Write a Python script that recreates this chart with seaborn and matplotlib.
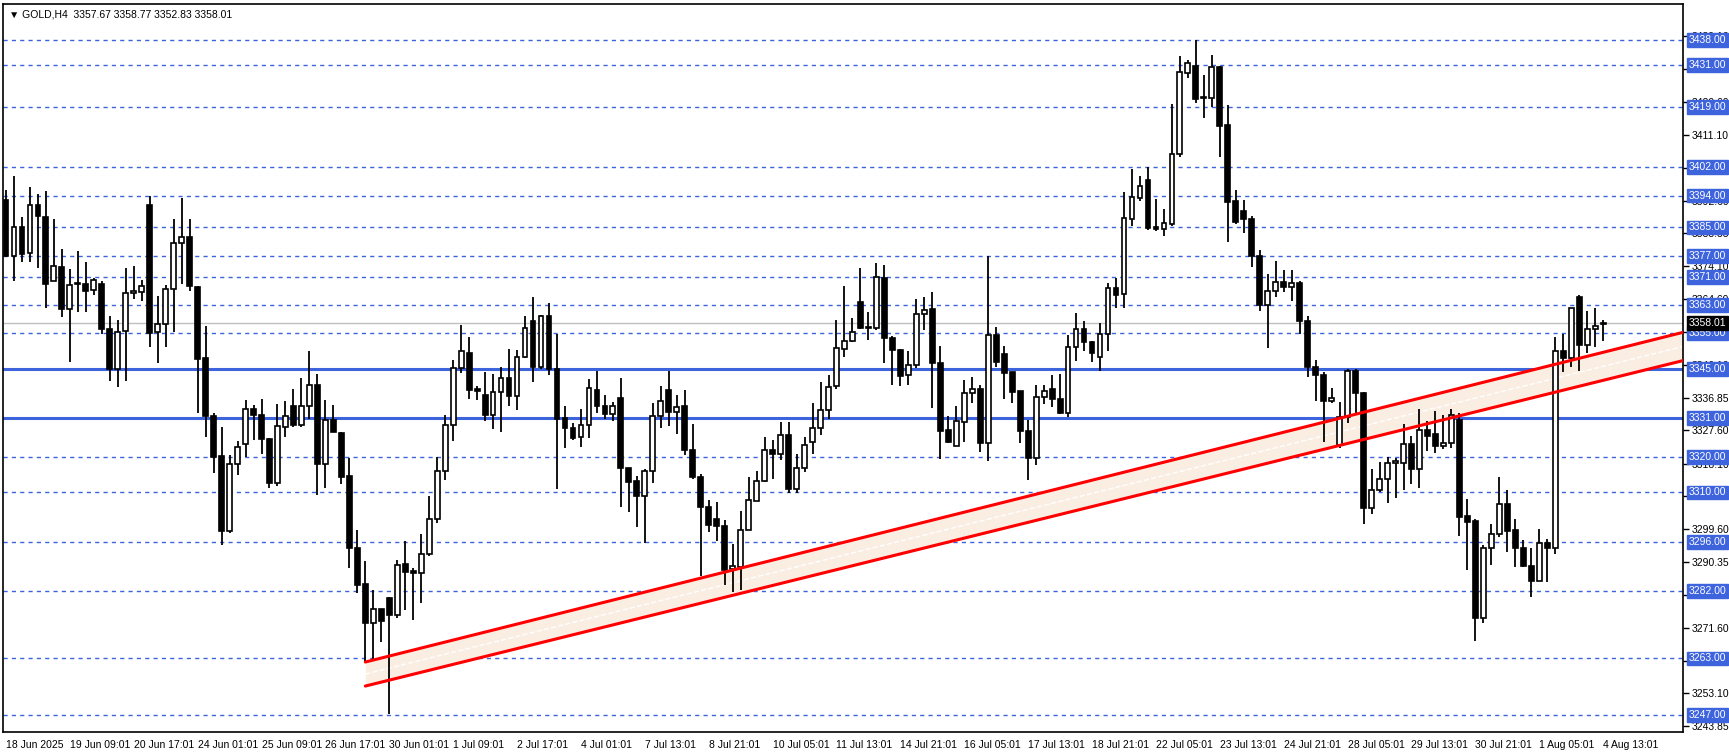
import matplotlib
matplotlib.use("Agg")
import matplotlib.pyplot as plt
import seaborn as sns
import numpy as np
import pandas as pd

opens = [3392.7,3377.0,3385.2,3377.7,3391.3,3388.0,3369.9,3373.9,3361.9,3368.9,3369.0,3367.3,3369.0,3356.2,3345.0,3355.6,3366.3,3366.6,3391.4,3355.3,
3357.7,3367.5,3380.5,3382.2,3368.2,3347.9,3331.7,3320.2,3299.1,3318.1,3323.7,3333.7,3332.0,3325.2,3312.7,3328.6,3334.5,3329.0,3334.5,3340.5,
3318.0,3330.4,3326.8,3314.6,3294.4,3284.2,3273.1,3276.9,3280.0,3275.3,3289.7,3287.7,3287.1,3292.7,3302.4,3316.0,3329.0,3345.3,3349.5,3339.2,
3337.5,3332.0,3338.4,3342.5,3337.3,3348.3,3358.6,3345.5,3359.8,3345.0,3331.2,3328.3,3325.7,3329.2,3339.1,3334.5,3332.3,3336.8,3316.8,3313.2,
3309.1,3316.0,3331.6,3339.1,3332.8,3334.4,3322.1,3314.4,3305.9,3302.6,3300.4,3288.4,3288.9,3299.5,3307.7,3313.3,3321.9,3321.0,3326.2,3311.0,
3317.0,3324.3,3328.3,3333.2,3340.0,3350.6,3352.9,3363.9,3356.5,3356.4,3370.6,3353.7,3350.4,3343.2,3346.1,3360.5,3361.9,3346.6,3327.6,3323.2,
3330.0,3338.1,3339.3,3324.0,3354.6,3349.2,3344.0,3338.6,3327.5,3319.7,3337.1,3339.3,3336.5,3332.4,3351.2,3356.2,3352.6,3348.2,3354.8,3367.8,
3366.1,3387.3,3393.4,3398.4,3385.1,3384.5,3385.9,3405.9,3428.7,3430.8,3421.5,3421.7,3430.3,3414.0,3392.5,3389.7,3387.3,3376.9,3363.1,3367.1,
3369.5,3368.1,3369.2,3358.5,3345.5,3343.3,3336.0,3323.3,3331.3,3344.5,3338.2,3305.7,3310.6,3313.9,3318.4,3318.4,3323.8,3316.7,3327.8,3326.4,
3323.2,3324.1,3330.6,3303.3,3301.9,3274.6,3294.4,3298.2,3306.8,3299.3,3294.4,3289.1,3285.0,3295.8,3294.4,3350.1,3348.1,3365.3,3351.7,3356.3,
3357.67]
highs = [3395.5,3399.6,3387.8,3396.5,3394.4,3395.3,3387.3,3378.8,3373.2,3378.4,3375.3,3370.8,3369.7,3360.0,3358.8,3373.5,3374.0,3370.2,3393.9,3365.7,
3368.8,3387.3,3393.4,3387.3,3368.5,3357.2,3332.5,3328.4,3320.7,3324.6,3336.2,3334.6,3336.5,3325.5,3334.9,3335.8,3339.3,3342.5,3349.9,3343.6,
3336.1,3334.6,3327.1,3319.6,3299.3,3290.5,3282.3,3277.0,3280.3,3290.8,3296.2,3288.5,3298.2,3308.9,3320.0,3331.8,3347.6,3357.5,3354.1,3340.0,
3344.2,3343.4,3345.5,3350.6,3350.2,3359.8,3365.2,3360.1,3363.5,3354.9,3334.4,3329.7,3333.7,3342.0,3344.5,3337.7,3335.6,3342.4,3316.9,3314.6,
3316.5,3335.4,3340.0,3344.5,3337.5,3339.1,3329.5,3315.3,3307.8,3307.3,3302.1,3295.5,3304.7,3314.3,3316.2,3325.7,3324.8,3329.9,3329.9,3321.0,
3325.7,3335.4,3341.2,3343.3,3358.9,3368.5,3359.3,3373.6,3361.1,3374.8,3374.4,3354.3,3350.6,3350.1,3364.7,3365.4,3366.6,3351.5,3331.5,3334.4,
3341.7,3342.6,3340.5,3376.9,3356.9,3351.5,3344.2,3338.8,3330.5,3340.5,3340.5,3343.3,3343.5,3354.6,3360.7,3358.6,3352.8,3357.9,3369.2,3370.6,
3395.1,3401.4,3399.5,3402.1,3393.0,3390.3,3420.0,3433.4,3432.5,3438.1,3428.1,3433.7,3430.6,3419.6,3395.5,3392.8,3388.2,3378.6,3371.8,3375.6,
3373.0,3373.0,3369.8,3359.8,3347.6,3344.2,3339.6,3335.6,3345.0,3345.0,3338.3,3316.7,3318.6,3320.0,3319.6,3329.5,3325.9,3333.7,3330.1,3332.9,
3331.8,3333.7,3332.5,3308.1,3302.5,3295.0,3301.0,3314.4,3310.6,3302.6,3296.5,3294.4,3299.7,3296.9,3354.1,3354.8,3362.3,3366.0,3361.2,3362.1,
3358.77]
lows = [3376.5,3369.7,3375.1,3375.1,3373.4,3362.2,3369.7,3359.5,3346.8,3361.0,3361.0,3366.0,3354.8,3341.5,3339.8,3341.5,3364.6,3364.1,3351.1,3346.5,
3351.1,3355.3,3369.1,3366.9,3332.4,3325.8,3315.5,3295.0,3298.5,3314.8,3320.0,3324.8,3321.0,3311.3,3311.8,3325.7,3328.5,3328.5,3330.9,3309.2,
3311.3,3327.0,3312.5,3288.6,3281.4,3262.1,3262.6,3267.7,3247.2,3274.6,3276.7,3273.9,3278.6,3292.1,3301.4,3313.6,3324.6,3343.8,3336.5,3336.2,
3330.2,3328.0,3327.1,3334.5,3333.2,3348.0,3341.2,3345.0,3343.1,3310.9,3322.6,3324.7,3322.9,3325.4,3332.5,3330.9,3330.2,3305.9,3304.5,3300.1,
3295.8,3312.7,3328.1,3328.7,3326.4,3320.5,3313.9,3286.3,3298.8,3296.3,3283.7,3281.9,3282.3,3299.3,3307.5,3313.0,3313.7,3319.3,3309.7,3309.7,
3315.8,3320.8,3326.2,3330.9,3339.3,3348.4,3352.6,3356.2,3353.1,3355.9,3346.5,3340.4,3340.0,3340.5,3345.1,3356.0,3333.8,3319.5,3324.0,3323.0,
3324.3,3335.2,3321.5,3318.9,3345.4,3336.4,3335.2,3324.0,3313.4,3317.8,3334.9,3334.3,3332.3,3331.3,3347.3,3349.9,3346.8,3344.3,3349.9,3362.2,
3362.3,3385.4,3392.5,3384.3,3384.0,3382.6,3385.4,3405.0,3427.3,3420.3,3416.0,3419.0,3405.0,3381.0,3385.9,3383.3,3373.9,3361.4,3350.8,3365.2,
3366.7,3364.3,3354.9,3342.6,3335.9,3324.3,3335.3,3322.7,3329.6,3332.3,3301.2,3304.0,3310.2,3307.1,3308.3,3310.8,3312.5,3311.3,3321.7,3321.2,
3322.4,3322.7,3297.6,3288.0,3268.0,3273.1,3289.4,3297.4,3293.2,3288.9,3289.0,3280.4,3284.9,3284.7,3292.7,3344.0,3345.5,3344.3,3349.4,3351.1,
3352.83]
closes = [3377.0,3385.2,3377.6,3391.3,3388.1,3368.9,3374.0,3361.9,3368.7,3368.9,3367.1,3370.2,3356.2,3345.0,3355.3,3366.4,3367.0,3368.4,3355.2,3357.7,
3367.5,3380.5,3382.2,3368.5,3347.7,3331.5,3320.0,3299.1,3318.1,3322.8,3333.6,3332.0,3325.0,3312.7,3328.7,3331.6,3329.0,3334.5,3340.5,3318.0,
3330.4,3327.1,3314.4,3294.3,3283.9,3273.1,3276.9,3273.7,3275.3,3289.6,3287.6,3287.1,3292.7,3302.4,3316.0,3329.0,3345.3,3349.9,3339.1,3338.6,
3332.0,3338.4,3342.5,3337.3,3348.3,3356.6,3345.5,3359.8,3345.0,3330.9,3328.2,3325.5,3329.2,3339.6,3334.5,3332.3,3334.5,3316.8,3313.0,3309.1,
3316.0,3331.6,3335.9,3332.8,3334.2,3321.9,3314.4,3305.9,3300.7,3300.5,3288.0,3289.1,3299.5,3307.9,3313.1,3321.9,3320.8,3326.2,3311.0,3317.0,
3323.3,3328.3,3333.2,3339.8,3350.9,3352.9,3355.5,3356.4,3356.6,3371.0,3353.7,3350.3,3342.9,3346.1,3360.5,3361.6,3346.5,3327.3,3324.3,3330.1,
3338.2,3339.3,3324.0,3354.6,3346.8,3343.7,3338.3,3327.3,3319.7,3337.1,3338.8,3336.5,3332.4,3351.2,3356.2,3352.5,3349.4,3354.8,3367.8,3365.9,
3387.6,3393.6,3396.7,3384.9,3384.5,3386.2,3405.9,3428.9,3431.4,3421.4,3421.6,3430.3,3413.7,3392.3,3386.5,3387.3,3376.9,3362.9,3366.9,3369.5,
3368.1,3369.2,3358.5,3345.5,3343.3,3335.9,3336.8,3331.3,3344.5,3338.1,3305.7,3310.6,3313.9,3318.2,3318.5,3323.8,3316.7,3327.8,3326.0,3323.2,
3324.1,3331.8,3303.1,3301.7,3274.6,3294.4,3298.2,3306.8,3299.1,3294.4,3289.2,3285.0,3295.8,3294.4,3350.1,3348.1,3362.3,3351.7,3356.3,3357.2,
3358.01]

dashed_levels = [3438, 3431, 3419, 3402, 3394, 3385, 3377, 3371, 3363, 3355, 3320, 3310, 3296, 3282, 3263, 3247]
solid_levels = [3345, 3331]
current_price = 3358.01
channel_x = [46, 211]
channel_upper = [3262.0, 3355.3]
channel_lower = [3255.2, 3347.3]
axis_ticks = [3243.85,3253.10,3262.35,3271.60,3281.10,3290.35,3299.60,3308.85,3318.10,3327.60,3336.85,
              3346.10,3355.35,3364.60,3374.10,3383.35,3392.60,3401.85,3411.10,3420.60,3429.85,3439.10]
date_labels = ["18 Jun 2025","19 Jun 09:01","20 Jun 17:01","24 Jun 01:01","25 Jun 09:01","26 Jun 17:01",
               "30 Jun 01:01","1 Jul 09:01","2 Jul 17:01","4 Jul 01:01","7 Jul 13:01","8 Jul 21:01",
               "10 Jul 05:01","11 Jul 13:01","14 Jul 21:01","16 Jul 05:01","17 Jul 13:01","18 Jul 21:01",
               "22 Jul 05:01","23 Jul 13:01","24 Jul 21:01","28 Jul 05:01","29 Jul 13:01","30 Jul 21:01",
               "1 Aug 05:01","4 Aug 13:01"]

sns.set_style("white")
plt.rcParams['font.family'] = ['Liberation Sans', 'DejaVu Sans']

df = pd.DataFrame({"open": opens, "high": highs, "low": lows, "close": closes})
df["idx"] = np.arange(1, len(df) + 1)

fig = plt.figure(figsize=(17.29, 7.52), dpi=100)
ax = fig.add_axes([0.0016, 0.0266, 0.9718, 0.968])

BLUE = "#3d63dd"
for lv in dashed_levels:
    ax.axhline(lv, color=BLUE, lw=1.0, ls=(0, (3, 3)), zorder=1)
for lv in solid_levels:
    ax.axhline(lv, color=BLUE, lw=2.2, zorder=1)
ax.axhline(current_price, color="#c0c0c0", lw=1.0, zorder=1)

# channel
ax.fill_between(channel_x, channel_upper, channel_lower, color="#faeee3", zorder=2, lw=0)
mid = [(u + l) / 2 for u, l in zip(channel_upper, channel_lower)]
sns.lineplot(x=channel_x, y=mid, ax=ax, color="white", lw=1, ls="--", zorder=2)
sns.lineplot(x=channel_x, y=channel_upper, ax=ax, color="#ff0000", lw=2.2, zorder=6)
sns.lineplot(x=channel_x, y=channel_lower, ax=ax, color="#ff0000", lw=2.2, zorder=6)

# candles
ax.vlines(df["idx"], df["low"], df["high"], color="black", lw=1.3, zorder=3)
bull = df["close"] >= df["open"]
bottoms = np.minimum(df["open"], df["close"])
heights = np.maximum(np.abs(df["close"] - df["open"]), 0.35)
ax.bar(df["idx"][bull], heights[bull], bottom=bottoms[bull], width=0.6,
       facecolor="white", edgecolor="black", lw=1.2, zorder=4)
ax.bar(df["idx"][~bull], heights[~bull], bottom=bottoms[~bull], width=0.6,
       facecolor="black", edgecolor="black", lw=1.2, zorder=4)

ax.set_xlim(0.6, 211)
ax.set_ylim(3242.2, 3448.2)

ax.yaxis.tick_right()
ax.set_yticks(axis_ticks)
ax.set_yticklabels([f"{v:.2f}" for v in axis_ticks], fontsize=7.5)
xt = [1 + 8 * i for i in range(len(date_labels))]
ax.set_xticks(xt)
ax.set_xticklabels(date_labels, fontsize=7.5, ha="left")
ax.tick_params(axis="both", length=4, width=1, direction="out", colors="black", pad=2)
for s in ax.spines.values():
    s.set_color("black")
    s.set_linewidth(1.2)

for lv in dashed_levels + solid_levels:
    ax.annotate(f"{lv:.2f}", xy=(1.0, lv), xycoords=("axes fraction", "data"),
                xytext=(4, 0), textcoords="offset points", va="center", ha="left",
                fontsize=7.5, color="white", zorder=10, annotation_clip=False,
                bbox=dict(boxstyle="square,pad=0.18", fc=BLUE, ec=BLUE))
ax.annotate(f"{current_price:.2f}", xy=(1.0, current_price), xycoords=("axes fraction", "data"),
            xytext=(4, 0), textcoords="offset points", va="center", ha="left",
            fontsize=7.5, color="white", zorder=11, annotation_clip=False,
            bbox=dict(boxstyle="square,pad=0.18", fc="black", ec="black"))

ax.text(0.004, 0.992, "▼ GOLD,H4  3357.67 3358.77 3352.83 3358.01", transform=ax.transAxes,
        fontsize=7.5, va="top", ha="left", color="black", zorder=12)

fig.savefig("out.png", dpi=100)
